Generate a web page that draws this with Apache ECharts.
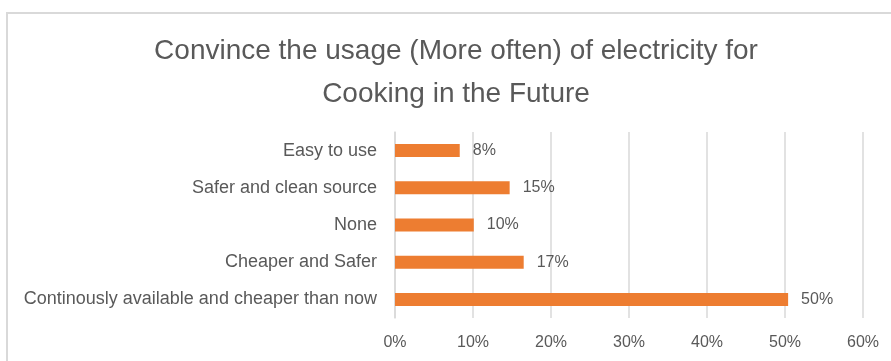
<!DOCTYPE html>
<html>
<head>
<meta charset="utf-8">
<script src="https://cdn.jsdelivr.net/npm/echarts@6/dist/echarts.min.js"></script>
<style>
html,body{margin:0;padding:0;background:#fff;}
#chart{width:891px;height:361px;}
</style>
</head>
<body>
<div id="chart"></div>
<script>
var titleText = "Convince the usage (More often) of electricity for\nCooking in the Future";
var categories = ["Easy to use", "Safer and clean source", "None", "Cheaper and Safer", "Continously available and cheaper than now"];
var values = [8.3, 14.7, 10.1, 16.5, 50.4];
var axisTicks = [0, 10, 20, 30, 40, 50, 60];

var font = "Liberation Sans";
var chart = echarts.init(document.getElementById('chart'));
chart.setOption({
  animation: false,
  backgroundColor: '#ffffff',
  graphic: [{
    type: 'rect',
    shape: {x: 7, y: 13, width: 900, height: 400},
    style: {fill: 'none', stroke: '#d9d9d9', lineWidth: 2},
    silent: true
  }],
  title: {
    text: titleText,
    left: 451,
    textAlign: 'center',
    top: 25,
    textStyle: {fontFamily: font, fontSize: 28, fontWeight: 'normal', color: '#595959', lineHeight: 43, align: 'center'}
  },
  grid: {left: 395, right: 28, top: 132, bottom: 43, containLabel: false},
  xAxis: {
    type: 'value',
    min: axisTicks[0],
    max: axisTicks[axisTicks.length - 1],
    interval: 10,
    axisLine: {show: false},
    axisTick: {show: false},
    splitLine: {show: true, lineStyle: {color: '#d9d9d9', width: 1.5}},
    axisLabel: {
      formatter: function (v) { return v + '%'; },
      fontFamily: font, fontSize: 16, color: '#595959', margin: 17
    }
  },
  yAxis: {
    type: 'category',
    data: categories,
    inverse: true,
    axisLine: {show: true, lineStyle: {color: '#d9d9d9', width: 1.5}},
    axisTick: {show: false},
    axisLabel: {fontFamily: font, fontSize: 18, color: '#595959', margin: 18}
  },
  series: [{
    type: 'bar',
    data: values,
    barWidth: 13,
    itemStyle: {color: '#ED7D31'},
    label: {
      show: true,
      position: 'right',
      distance: 13,
      formatter: function (p) { return Math.round(p.value) + '%'; },
      fontFamily: font, fontSize: 16, color: '#595959'
    }
  }]
});
</script>
</body>
</html>
